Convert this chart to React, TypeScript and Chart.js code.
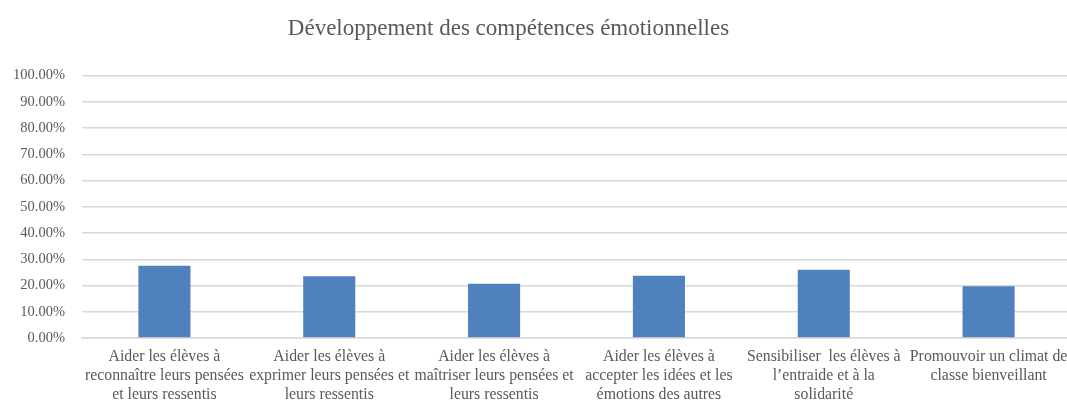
import React, { useEffect, useRef } from "react";
import { Chart, registerables } from "chart.js";

Chart.register(...registerables);

const TITLE = "Développement des compétences émotionnelles";

const categories: string[][] = [
  ["Aider les élèves à", "reconnaître leurs pensées", "et leurs ressentis"],
  ["Aider les élèves à", "exprimer leurs pensées et", "leurs ressentis"],
  ["Aider les élèves à", "maîtriser leurs pensées et", "leurs ressentis"],
  ["Aider les élèves à", "accepter les idées et les", "émotions des autres"],
  ["Sensibiliser  les élèves à", "l’entraide et à la", "solidarité"],
  ["Promouvoir un climat de", "classe bienveillant"],
];

const values: number[] = [0.275, 0.235, 0.207, 0.237, 0.26, 0.197];

const yMin = 0;
const yMax = 1;
const yStep = 0.1;

const TEXT = "#595959";
const GRID = "#d9d9d9";
const BAR = "#4f81bd";
const FONT = "'Liberation Serif', 'Times New Roman', serif";

export default function App() {
  const ref = useRef<HTMLCanvasElement | null>(null);

  useEffect(() => {
    document.body.style.margin = "0";
    document.body.style.overflow = "hidden";
    if (!ref.current) return;
    const chart = new Chart(ref.current, {
      type: "bar",
      data: {
        labels: categories,
        datasets: [
          {
            data: values,
            backgroundColor: BAR,
            borderWidth: 0,
            barPercentage: 0.316,
            categoryPercentage: 1,
          },
        ],
      },
      options: {
        responsive: false,
        animation: false,
        layout: { padding: { left: 0, right: 0, top: 0, bottom: 0 } },
        plugins: {
          legend: { display: false },
          tooltip: { enabled: false },
          title: {
            display: true,
            text: TITLE,
            color: TEXT,
            font: { family: FONT, size: 23, weight: "normal" },
            padding: { top: 15, bottom: 33 },
          },
        },
        scales: {
          x: {
            grid: { display: false, drawTicks: false },
            border: { display: true, color: GRID, width: 1.5 },
            ticks: {
              color: TEXT,
              font: { family: FONT, size: 15.8, lineHeight: 1.2 },
              autoSkip: false,
              maxRotation: 0,
              minRotation: 0,
              padding: 9,
            },
            afterFit: (scale: any) => {
              scale.height = 63;
              scale.paddingLeft = 0;
              scale.paddingRight = 0;
            },
          },
          y: {
            min: yMin,
            max: yMax,
            grid: { color: GRID, lineWidth: 1.5, drawTicks: false },
            border: { display: false },
            ticks: {
              stepSize: yStep,
              color: TEXT,
              font: { family: FONT, size: 14.5 },
              padding: 17,
              callback: (v: any) => (Number(v) * 100).toFixed(2) + "%",
            },
            afterFit: (scale: any) => {
              scale.width = 136;
            },
          },
        },
      },
    });
    return () => chart.destroy();
  }, []);

  return (
    <div
      style={{
        position: "fixed",
        left: 0,
        top: 0,
        width: 1067,
        height: 401,
        overflow: "hidden",
        background: "#fff",
      }}
    >
      <div style={{ position: "absolute", left: -54, top: 0 }}>
        <canvas ref={ref} width={1125} height={401} style={{ width: 1125, height: 401 }} />
      </div>
    </div>
  );
}
